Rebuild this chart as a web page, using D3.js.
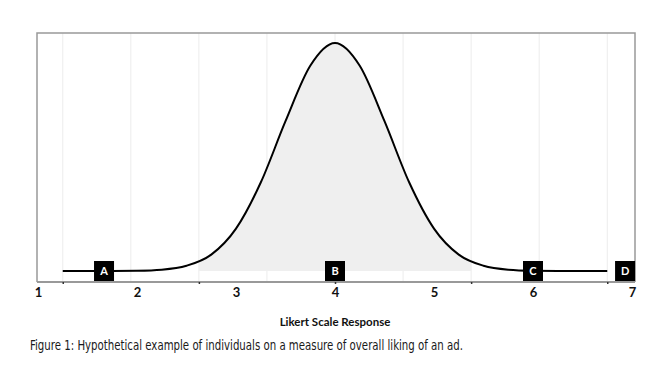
<!DOCTYPE html>
<html>
<head>
<meta charset="utf-8">
<script src="https://cdn.jsdelivr.net/npm/d3@7"></script>
<style>
  body { margin: 0; background: #fff; }
  svg { display: block; }
</style>
</head>
<body>
<div class="chart"></div>
<script>
// Likert positions, relative height of the curve (peak = 1)
const curveX = [1.25, 1.5, 1.75, 2, 2.25, 2.5, 2.75, 3, 3.25, 3.5, 3.75, 4,
                4.25, 4.5, 4.75, 5, 5.25, 5.5, 5.75, 6, 6.25, 6.5, 6.75];
const curveY = [0, 0, 0.0002, 0.0012, 0.0058, 0.023, 0.072, 0.186, 0.388, 0.657, 0.9, 1,
                0.9, 0.657, 0.388, 0.186, 0.072, 0.023, 0.0058, 0.0012, 0.0002, 0, 0];

// shaded band under the curve
const shadeFrom = 2.625;
const shadeTo = 5.375;

// light vertical grid and the small ticks on the axis line
const gridValues = [1.25, 1.9375, 2.625, 3.3125, 4, 4.6875, 5.375, 6.0625, 6.75];
const tickMarks = [1.25, 2.625, 4, 5.375, 6.75];
const tickLabels = [1, 2, 3, 4, 5, 6, 7];

// the people marked on the scale
const people = ['A', 'B', 'C', 'D'];
const peopleX = [1.667, 4, 6, 6.93];

const xTitle = 'Likert Scale Response';
const caption = 'Figure 1: Hypothetical example of individuals on a measure of overall liking of an ad.';

const svg_width = 650;
const svg_height = 373;
const frame = {left: 37, right: 635, top: 33, bottom: 282};

const svg = d3.select('.chart').append('svg')
    .attr('width', svg_width).attr('height', svg_height);

const xScale = d3.scaleLinear().domain([1, 7]).range([38, 632]);
const yScale = d3.scaleLinear().domain([0, 1]).range([271, 43]);

const points = curveX.map((x, i) => ({x: x, y: curveY[i]}));

// grid
svg.append('g').attr('class', 'grid')
    .selectAll('line')
    .data(gridValues)
    .enter()
    .append('line')
    .attr('x1', d => xScale(d)).attr('x2', d => xScale(d))
    .attr('y1', frame.top).attr('y2', frame.bottom)
    .style('stroke', '#ececec')
    .style('stroke-width', 1);

// shaded area, clipped to the band
svg.append('clipPath').attr('id', 'band')
    .append('rect')
    .attr('x', xScale(shadeFrom))
    .attr('y', frame.top)
    .attr('width', xScale(shadeTo) - xScale(shadeFrom))
    .attr('height', frame.bottom - frame.top);

const area = d3.area()
    .x(d => xScale(d.x))
    .y0(yScale(0))
    .y1(d => yScale(d.y))
    .curve(d3.curveMonotoneX);

svg.append('path')
    .datum(points)
    .attr('d', area)
    .attr('clip-path', 'url(#band)')
    .style('fill', '#efefef');

// frame (top, left, right)
svg.append('path')
    .attr('d', `M${frame.left},${frame.bottom}V${frame.top}H${frame.right}V${frame.bottom}`)
    .style('fill', 'none')
    .style('stroke', '#999')
    .style('stroke-width', 1.5);

// axis line with small ticks
const xAxis = d3.axisBottom(xScale)
    .tickValues(tickMarks)
    .tickFormat('')
    .tickSizeInner(2)
    .tickSizeOuter(0);
const xAxisDraw = svg.append('g')
    .attr('class', 'x axis')
    .attr('transform', `translate(0,${frame.bottom})`)
    .call(xAxis);
xAxisDraw.select('.domain')
    .attr('d', `M${frame.left},0H${frame.right}`)
    .style('stroke', '#999').style('stroke-width', 2);
xAxisDraw.selectAll('.tick line').style('stroke', '#333').style('stroke-width', 1.5);

// tick labels 1..7
const labelAxis = d3.axisBottom(xScale)
    .tickValues(tickLabels)
    .tickFormat(d3.format('d'))
    .tickSize(0)
    .tickPadding(0);
const labelDraw = svg.append('g')
    .attr('class', 'labels')
    .attr('transform', `translate(0,${frame.bottom + 6})`)
    .call(labelAxis);
labelDraw.select('.domain').remove();
labelDraw.selectAll('text')
    .style('font-family', 'Lato, "Open Sans", sans-serif')
    .style('font-weight', 'bold')
    .style('font-size', '13px')
    .style('fill', '#111');

// curve
const line = d3.line()
    .x(d => xScale(d.x))
    .y(d => yScale(d.y))
    .curve(d3.curveMonotoneX);

svg.append('path')
    .datum(points)
    .attr('d', line)
    .style('fill', 'none')
    .style('stroke', '#000')
    .style('stroke-width', 2);

// person boxes
const boxes = svg.append('g').attr('class', 'people')
    .selectAll('g')
    .data(people)
    .enter()
    .append('g')
    .attr('transform', (d, i) => `translate(${xScale(peopleX[i])},${yScale(0)})`);

boxes.append('rect')
    .attr('x', -10).attr('y', -10)
    .attr('width', 20).attr('height', 20)
    .style('fill', '#000');

boxes.append('text')
    .attr('text-anchor', 'middle')
    .attr('dy', '0.37em')
    .text(d => d)
    .style('font-family', 'Lato, "Open Sans", sans-serif')
    .style('font-size', '11px')
    .style('font-weight', 'bold')
    .style('fill', '#fff');

// axis title
svg.append('text')
    .attr('x', xScale(4)).attr('y', 326)
    .attr('text-anchor', 'middle')
    .text(xTitle)
    .style('font-family', 'Lato, "Open Sans", sans-serif')
    .style('font-weight', 'bold')
    .style('font-size', '11.5px')
    .style('fill', '#111');

// caption
svg.append('text')
    .attr('x', 30).attr('y', 349.5)
    .attr('textLength', 433)
    .attr('lengthAdjust', 'spacingAndGlyphs')
    .text(caption)
    .style('font-family', '"Liberation Sans Narrow", "DejaVu Sans Condensed", sans-serif')
    .style('font-size', '13.5px')
    .style('fill', '#1a1a1a');
</script>
</body>
</html>
